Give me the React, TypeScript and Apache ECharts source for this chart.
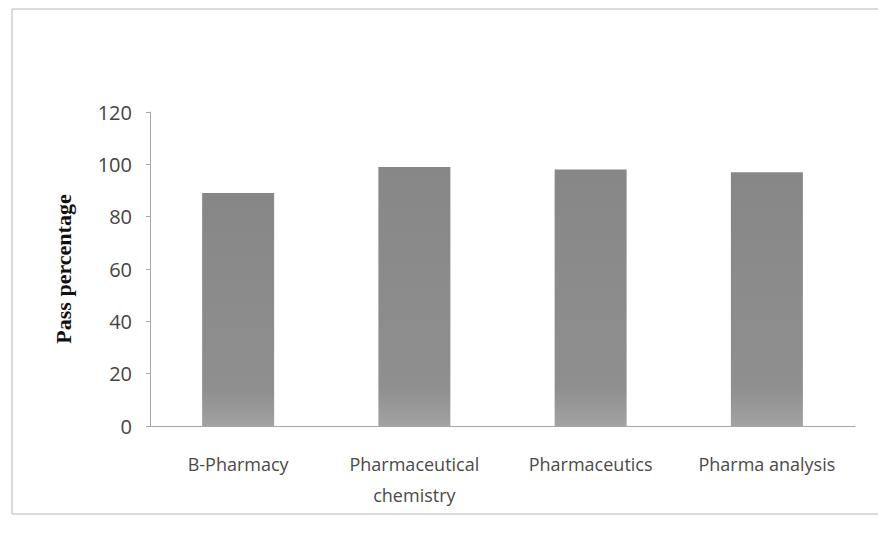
import React, { useEffect, useRef } from "react";
import * as echarts from "echarts";

const categories = ["B-Pharmacy", "Pharmaceutical\nchemistry", "Pharmaceutics", "Pharma analysis"];
const passValues = [89, 99, 98, 97];
const yTicks = [0, 20, 40, 60, 80, 100, 120];

export default function App() {
  const ref = useRef<HTMLDivElement>(null);
  useEffect(() => {
    if (!ref.current) return;
    const chart = echarts.init(ref.current, null, { renderer: "svg" });
    chart.setOption({
      animation: false,
      backgroundColor: "#ffffff",
      graphic: [
        {
          type: "rect",
          shape: { x: 12, y: 9, width: 880, height: 505 },
          style: { fill: "none", stroke: "#b8b8b8", lineWidth: 1 },
          silent: true,
        },
      ],
      grid: { left: 150, right: 23, top: 112, bottom: 116 },
      xAxis: {
        type: "category",
        data: categories,
        axisLine: { lineStyle: { color: "#a8a8a8", width: 1 } },
        axisTick: { show: false },
        axisLabel: {
          interval: 0,
          hideOverlap: false,
          color: "#4a4a4a",
          fontFamily: "Open Sans",
          fontSize: 18,
          margin: 22,
          lineHeight: 31,
        },
      },
      yAxis: {
        type: "value",
        min: yTicks[0],
        max: yTicks[yTicks.length - 1],
        interval: 20,
        name: "Pass percentage",
        nameLocation: "middle",
        nameGap: 76,
        nameTextStyle: {
          fontFamily: "Liberation Serif",
          fontWeight: "bold",
          fontSize: 22,
          color: "#111",
        },
        axisLine: { show: true, lineStyle: { color: "#a8a8a8", width: 1 } },
        axisTick: { show: true, length: 4, lineStyle: { color: "#a8a8a8" } },
        splitLine: { show: false },
        axisLabel: {
          color: "#444",
          fontFamily: "Open Sans",
          fontSize: 20,
          margin: 18,
        },
      },
      series: [
        {
          type: "bar",
          data: passValues,
          barWidth: 72,
          itemStyle: {
            color: new echarts.graphic.LinearGradient(0, 0, 0, 1, [
              { offset: 0, color: "#878787" },
              { offset: 0.85, color: "#8f8f8f" },
              { offset: 1, color: "#a2a2a2" },
            ]),
          },
        },
      ],
    });
    return () => chart.dispose();
  }, []);
  return (
    <div
      ref={ref}
      style={{ position: "fixed", left: 0, top: 0, width: 878, height: 542 }}
    />
  );
}
